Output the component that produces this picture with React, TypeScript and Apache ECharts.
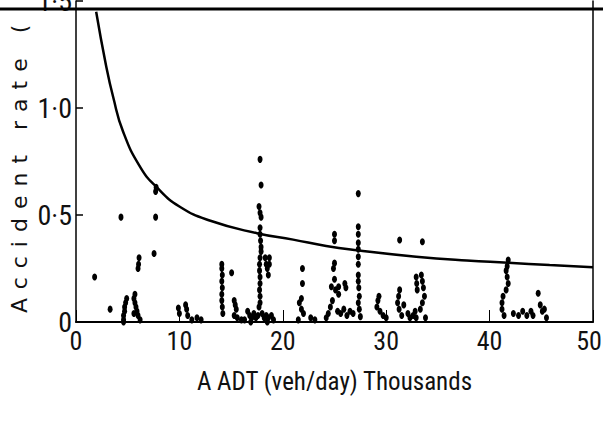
import React, { useEffect, useRef } from "react";
import * as echarts from "echarts";

// AADT (thousands veh/day), accident rate observations
const siteAADT: number[] = [
  1.8, 3.3, 4.35, 4.9, 4.8, 4.7, 4.7, 4.6, 4.6, 4.6,
  5.7, 5.6, 5.7, 5.8, 5.9, 6.0, 6.2, 5.6, 6.1, 6.05, 6.0,
  7.75, 7.7, 7.7, 7.55,
  9.9, 10.0, 10.6, 10.7, 10.8, 11.2, 11.7, 12.1,
  14.1, 14.1, 14.15, 14.1, 14.15, 14.1, 14.1, 14.15, 14.2,
  15.05, 15.3, 15.4, 15.5, 15.3, 15.6, 16.0, 16.3,
  17.8, 17.9, 17.7, 17.8, 17.9,
  17.8, 17.8, 17.85, 17.9, 17.9, 17.8, 17.75, 17.75, 17.8, 17.8, 17.75, 17.8, 17.8, 17.7,
  18.3, 18.4, 18.5, 18.6, 18.7, 18.7,
  16.6, 16.8, 17.0, 17.2, 17.4, 17.6, 18.0, 18.2, 18.4, 18.6, 18.9, 19.1, 16.9, 18.5,
  21.9, 21.9, 21.8, 21.6, 21.8, 22.0, 21.5, 22.7, 23.1,
  25.0, 25.0, 25.0, 24.9, 25.0, 24.7, 25.4, 25.1, 25.4, 24.8, 24.6, 24.4, 24.2, 26.0, 26.1,
  25.3, 25.6, 25.9, 26.2, 26.5, 26.8,
  27.3, 27.3, 27.3, 27.3, 27.3, 27.3, 27.3, 27.3, 27.3, 27.35, 27.4, 27.3, 27.4, 27.5,
  29.3, 29.2, 29.1, 29.4, 29.7, 30.0,
  31.3, 31.3, 31.2, 31.1, 31.25, 31.5, 31.7, 32.1, 32.3, 32.6,
  32.9, 32.95, 33.0, 33.4, 33.5, 33.6, 33.7, 33.5, 33.3, 32.8, 32.9, 33.8, 33.5,
  41.8, 41.7, 41.6, 41.7, 41.8, 41.6, 41.3, 41.2, 41.2, 41.4,
  42.3, 42.8, 43.2, 43.6, 44.0, 44.2, 44.7, 44.9, 45.1, 45.3, 45.5,
];
const siteRate: number[] = [
  0.21, 0.06, 0.49, 0.11, 0.09, 0.07, 0.05, 0.03, 0.01, 0.0,
  0.13, 0.11, 0.09, 0.07, 0.05, 0.03, 0.01, 0.04, 0.30, 0.27, 0.25,
  0.63, 0.61, 0.49, 0.32,
  0.065, 0.04, 0.08, 0.06, 0.03, 0.01, 0.02, 0.01,
  0.27, 0.25, 0.22, 0.19, 0.16, 0.13, 0.10, 0.07, 0.04,
  0.23, 0.10, 0.08, 0.06, 0.03, 0.02, 0.01, 0.01,
  0.76, 0.64, 0.54, 0.51, 0.49,
  0.44, 0.41, 0.38, 0.35, 0.33, 0.30, 0.27, 0.24, 0.21, 0.18, 0.15, 0.12, 0.09, 0.07,
  0.30, 0.27, 0.25, 0.22, 0.30, 0.27,
  0.05, 0.03, 0.02, 0.04, 0.02, 0.03, 0.04, 0.02, 0.03, 0.02, 0.03, 0.01, 0.0, 0.0,
  0.25, 0.18, 0.11, 0.09, 0.06, 0.04, 0.01, 0.02, 0.01,
  0.41, 0.38, 0.275, 0.25, 0.20, 0.165, 0.165, 0.15, 0.13, 0.10, 0.07, 0.04, 0.02, 0.18, 0.16,
  0.05, 0.04, 0.06, 0.03, 0.05, 0.04,
  0.60, 0.445, 0.41, 0.37, 0.34, 0.305, 0.27, 0.22, 0.19, 0.16, 0.12, 0.09, 0.06, 0.025,
  0.12, 0.10, 0.07, 0.05, 0.03, 0.02,
  0.383, 0.15, 0.12, 0.09, 0.06, 0.03, 0.08, 0.04, 0.02, 0.03,
  0.21, 0.18, 0.15, 0.22, 0.19, 0.16, 0.12, 0.09, 0.06, 0.05, 0.02, 0.02, 0.375,
  0.29, 0.26, 0.24, 0.21, 0.18, 0.15, 0.12, 0.09, 0.06, 0.03,
  0.04, 0.03, 0.05, 0.03, 0.05, 0.03, 0.134, 0.08, 0.05, 0.06, 0.02,
];

// fitted relationship
const curveAADT: number[] = [1.95, 2.9, 3.6, 4.55, 6.2, 7.8, 10, 13, 17.5, 21, 24.2, 27.2, 32.9, 37.8, 41.8, 45.8, 50];
const curveRate: number[] = [1.45, 1.2, 1.05, 0.89, 0.725, 0.63, 0.54, 0.473, 0.415, 0.385, 0.355, 0.335, 0.305, 0.287, 0.277, 0.266, 0.256];

const xTicks = { min: 0, max: 50, interval: 10 };
const yTicks = { min: 0, max: 1.5, interval: 0.5 };

const SANS = "'Roboto Condensed', 'Open Sans Condensed', 'DejaVu Sans Condensed', 'Liberation Sans Narrow', 'Liberation Sans', Arial, sans-serif";
const Y_NAME = "Accident rate (";

export default function App() {
  const ref = useRef<HTMLDivElement>(null);
  useEffect(() => {
    if (!ref.current) return;
    const chart = echarts.init(ref.current, null, { renderer: "svg" });
    const scatterData = siteAADT.map((x, i) => [x, siteRate[i]]);
    const curveData = curveAADT.map((x, i) => [x, curveRate[i]]);
    chart.setOption({
      animation: false,
      backgroundColor: "#ffffff",
      grid: { left: 76, right: 10, top: 1, bottom: 107, show: false, outerBoundsMode: "none", containLabel: false },
      xAxis: {
        type: "value",
        min: xTicks.min,
        max: xTicks.max,
        interval: xTicks.interval,
        name: "A ADT (veh/day) Thousands",
        nameLocation: "middle",
        nameGap: 47,
        nameTextStyle: { fontFamily: SANS, fontSize: 25, color: "#111" },
        axisLine: { show: true, onZero: false, lineStyle: { color: "#000", width: 2 } },
        axisTick: { show: true, inside: true, length: 12, lineStyle: { color: "#000", width: 1 } },
        axisLabel: {
          fontFamily: SANS,
          fontSize: 26,
          color: "#111",
          margin: 6,
          formatter: (v: number) => (v === xTicks.max ? "{e|" + v + "}" : String(v)),
          rich: { e: { fontFamily: SANS, fontSize: 26, color: "#111", padding: [0, 8, 0, 0] } },
        },
        splitLine: { show: false },
      },
      yAxis: [
        {
          type: "value",
          min: yTicks.min,
          max: yTicks.max,
          interval: yTicks.interval,
          axisLine: { show: true, lineStyle: { color: "#000", width: 1.5 } },
          axisTick: { show: true, inside: true, length: 7, lineStyle: { color: "#000", width: 1.5 } },
          axisLabel: {
            fontFamily: SANS,
            fontSize: 28,
            color: "#111",
            margin: 4,
            formatter: (v: number) => (v === 0 ? "0" : v.toFixed(1).replace(".", "·")),
          },
          splitLine: { show: false },
        },
        {
          type: "value",
          position: "right",
          min: yTicks.min,
          max: yTicks.max,
          axisLine: { show: true, lineStyle: { color: "#000", width: 1.5 } },
          axisTick: { show: false },
          axisLabel: { show: false },
          splitLine: { show: false },
        },
      ],
      graphic: [
        {
          type: "line",
          shape: { x1: 0, y1: 9, x2: 603, y2: 9 },
          style: { stroke: "#000", lineWidth: 3 },
          z: 10,
        },
        {
          type: "text",
          x: 19,
          y: 313,
          rotation: Math.PI / 2,
          style: {
            text: Y_NAME,
            fontFamily: "'DejaVu Sans', sans-serif",
            fontSize: 22,
            fill: "#111",
            textAlign: "left",
            textVerticalAlign: "middle",
          },
        },
      ],
      series: [
        {
          type: "scatter",
          data: scatterData,
          symbol: "circle",
          symbolSize: [5, 7],
          itemStyle: { color: "#000", opacity: 1 },
        },
        {
          type: "line",
          data: curveData,
          smooth: true,
          showSymbol: false,
          lineStyle: { color: "#000", width: 2.5 },
        },
      ],
    });
    const texts = ref.current.querySelectorAll("text");
    texts.forEach((t) => {
      if (t.textContent === Y_NAME) t.setAttribute("letter-spacing", "9");
    });
    return () => chart.dispose();
  }, []);
  return <div ref={ref} style={{ width: 603, height: 429, position: "absolute", left: 0, top: 0 }} />;
}
